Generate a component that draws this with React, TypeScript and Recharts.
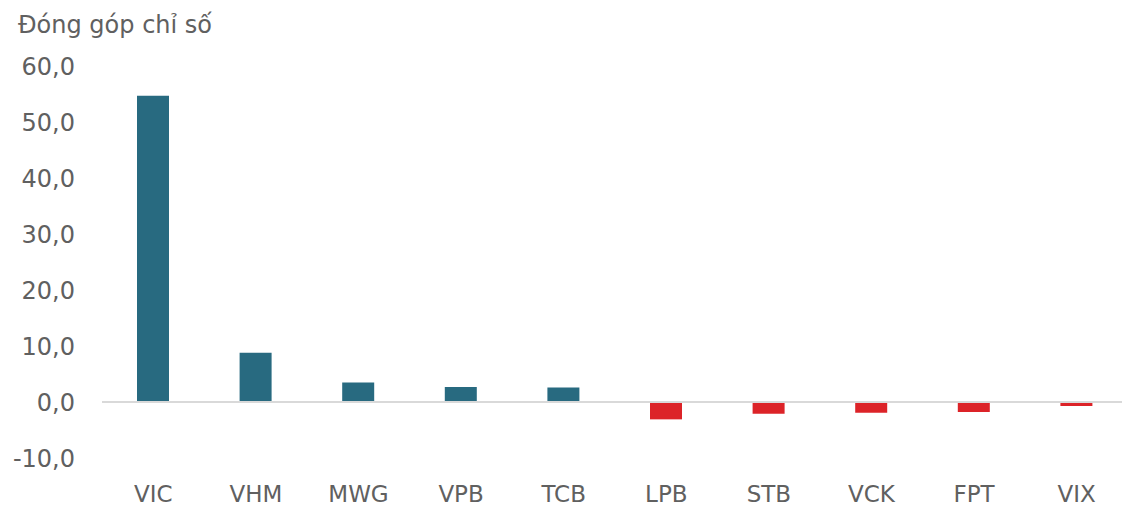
import { BarChart, Bar, Cell, XAxis, YAxis, ReferenceLine } from "recharts";

const tickers = ["VIC", "VHM", "MWG", "VPB", "TCB", "LPB", "STB", "VCK", "FPT", "VIX"];
const contribution = [54.7, 8.8, 3.5, 2.7, 2.6, -3.1, -2.1, -1.9, -1.8, -0.7];
const yTicks = [-10, 0, 10, 20, 30, 40, 50, 60];

const POS = "#286a80";
const NEG = "#dc2328";
const TEXT = "#606060";
const FONT = "'DejaVu Sans', sans-serif";

const data = tickers.map((t, i) => ({ name: t, value: contribution[i] }));

const fmt = (v: number) => v.toFixed(1).replace(".", ",");

export default function App() {
  return (
    <div style={{ position: "absolute", left: 0, top: 0, width: 1122, height: 507, overflow: "hidden", background: "#fff", fontFamily: FONT }}>
      <div style={{ position: "absolute", left: 18, top: 10, fontSize: 24, color: TEXT, lineHeight: "30px" }}>
        Đóng góp chỉ số
      </div>
      <BarChart width={1128} height={507} data={data} margin={{ top: 66, right: 0, bottom: 0, left: 0 }}>
        <YAxis
          domain={[-10, 60]}
          ticks={yTicks}
          width={102}
          axisLine={false}
          tickLine={false}
          tickSize={0}
          tickMargin={27}
          tickFormatter={fmt}
          tick={{ fill: TEXT, fontSize: 24, fontFamily: FONT }}
        />
        <XAxis
          dataKey="name"
          axisLine={false}
          tickLine={false}
          tickSize={0}
          tickMargin={28}
          height={49}
          interval={0}
          tick={{ fill: TEXT, fontSize: 23, fontFamily: FONT }}
        />
        <ReferenceLine y={0} stroke="#d9d9d9" strokeWidth={2} />
        <Bar dataKey="value" barSize={32} isAnimationActive={false}>
          {data.map((d, i) => (
            <Cell key={`c-${i}`} fill={d.value >= 0 ? POS : NEG} />
          ))}
        </Bar>
      </BarChart>
    </div>
  );
}
